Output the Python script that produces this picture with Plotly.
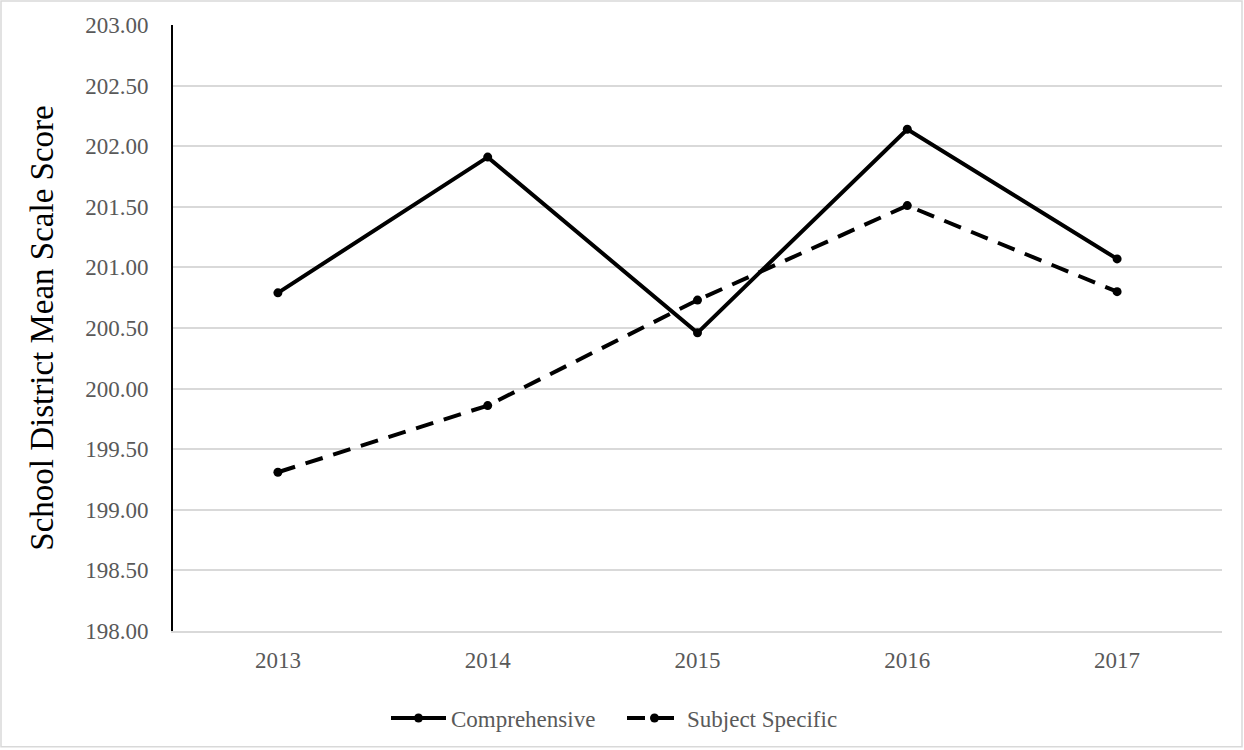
import plotly.graph_objects as go

years = ["2013", "2014", "2015", "2016", "2017"]
comprehensive = [200.79, 201.91, 200.46, 202.14, 201.07]
subject_specific = [199.31, 199.86, 200.73, 201.51, 200.80]
y_ticks = [198.0, 198.5, 199.0, 199.5, 200.0, 200.5, 201.0, 201.5, 202.0, 202.5, 203.0]

W, H = 1244, 750
L, R, T, B = 173, 22, 25, 118

fig = go.Figure()
fig.add_trace(go.Scatter(
    x=years, y=comprehensive, name="Comprehensive", mode="lines+markers",
    line=dict(color="black", width=4),
    marker=dict(color="black", size=9),
))
fig.add_trace(go.Scatter(
    x=years, y=subject_specific, name="Subject Specific", mode="lines+markers",
    line=dict(color="black", width=4, dash="18px,11px"),
    marker=dict(color="black", size=9),
))

pw, ph = W - L - R, H - T - B
fig.add_shape(type="rect", xref="paper", yref="paper",
              x0=(1 - L) / pw, x1=(W - L - 2) / pw,
              y0=-(H - T - 2 - ph) / ph, y1=(ph + T - 1) / ph,
              line=dict(color="#d9d9d9", width=1.5), layer="below")

fig.update_layout(
    width=W, height=H,
    margin=dict(l=L, r=R, t=T, b=B),
    paper_bgcolor="white", plot_bgcolor="white",
    font=dict(family="Liberation Serif, Times New Roman, serif", color="#595959", size=23),
    showlegend=True,
    legend=dict(orientation="h", x=(386 - L) / pw, xanchor="left",
                y=-(718 - 632) / ph, yanchor="middle",
                itemwidth=55, entrywidth=166, entrywidthmode="pixels",
                font=dict(size=23, color="#595959")),
    xaxis=dict(type="category", range=[-0.5, 4.5], showgrid=False, showline=True,
               linecolor="#d9d9d9", linewidth=1.5, ticks="", ticklabelstandoff=8,
               tickfont=dict(size=23, color="#595959")),
    yaxis=dict(range=[198, 203], tickvals=y_ticks, tickformat=".2f",
               showgrid=True, gridcolor="#d9d9d9", gridwidth=1.5,
               showline=True, linecolor="black", linewidth=2, zeroline=False,
               ticks="", ticklabelstandoff=18, automargin=False,
               tickfont=dict(size=23, color="#595959"),
               title=dict(text="School District Mean Scale Score",
                          font=dict(size=33, color="black"), standoff=22)),
)

fig.write_html("out.html", config={"displayModeBar": False},
               post_script="document.body.style.margin='0';document.body.style.overflow='hidden';")
